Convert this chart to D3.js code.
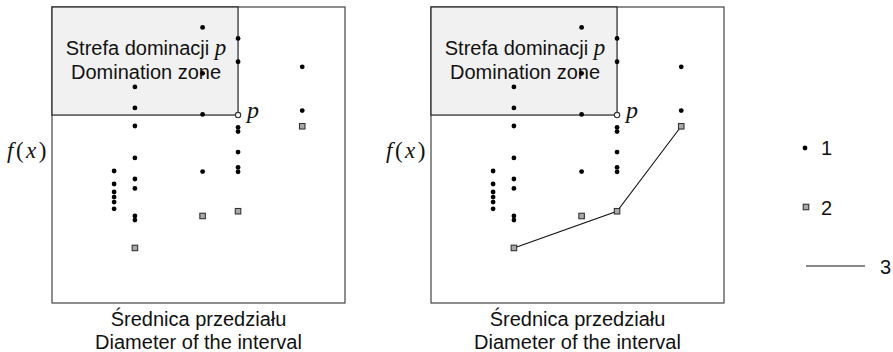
<!DOCTYPE html>
<html>
<head>
<meta charset="utf-8">
<script src="https://cdn.jsdelivr.net/npm/d3@7/dist/d3.min.js"></script>
<style>
  html, body { margin: 0; padding: 0; background: #fff; }
  svg { display: block; }
  .sans { font-family: "Liberation Sans", Arial, Helvetica, sans-serif; }
  .math { font-family: "Liberation Serif", "Times New Roman", serif; font-style: italic; }
</style>
</head>
<body>
<svg id="chart" width="893" height="352"></svg>
<script>
// Candidate solutions: interval diameter (x) vs. objective f(x), both on a 0–100 scale.
const columnX   = [21.2, 28.3, 51.4, 63.5, 85.4];
const colA = [44.6, 40.2, 37.5, 35.8, 34.1, 31.8];
const colB = [73.0, 65.9, 59.8, 49.0, 41.9, 38.7, 29.4, 28.0];
const colC = [93.1, 77.6, 63.7, 44.4];
const colD = [89.4, 81.5, 59.3, 57.9, 51.0, 45.8, 44.3];
const colE = [79.8, 65.0];
const pointCols = [colA, colB, colC, colD, colE];

// Best (minimal f) solution in each diameter column, marked with a square.
const bestX = [28.3, 51.4, 63.5, 85.4];
const bestY = [18.6, 29.4, 31.0, 59.7];

// Lower front connecting the non-dominated best solutions.
const frontX = [28.3, 63.5, 85.4];
const frontY = [18.6, 31.0, 59.7];

// Reference point p and its domination zone.
const pX = 63.5, pY = 63.5;

const labelZone1 = "Strefa dominacji ";
const labelZone2 = "Domination zone";
const xLabel1 = "Średnica przedziału";
const xLabel2 = "Diameter of the interval";
const legendLabels = ["1", "2", "3"];

const svg = d3.select("#chart");
const W = 293, H = 296, TOP = 7;
const panelLefts = [52, 431];

const x = d3.scaleLinear().domain([0, 100]).range([0, W]);
const y = d3.scaleLinear().domain([0, 100]).range([H, 0]);

const points = [];
pointCols.forEach((col, i) => col.forEach(v => points.push({ x: columnX[i], y: v })));
const best = bestX.map((v, i) => ({ x: v, y: bestY[i] }));
const front = frontX.map((v, i) => ({ x: v, y: frontY[i] }));

const DOT_R = 2.4;

function drawPanel(left, withFront) {
  const g = svg.append("g").attr("transform", `translate(${left},${TOP})`);

  // plot frame
  g.append("rect")
    .attr("x", 0).attr("y", 0).attr("width", W).attr("height", H)
    .attr("fill", "none").attr("stroke", "#444").attr("stroke-width", 1.2);

  // domination zone of p
  g.append("rect")
    .attr("x", x(0)).attr("y", y(100))
    .attr("width", x(pX) - x(0)).attr("height", y(pY) - y(100))
    .attr("fill", "#f1f1f1").attr("stroke", "#222").attr("stroke-width", 1.2);

  const cx = (x(0) + x(pX)) / 2 + 1;
  const t1 = g.append("text").attr("class", "sans")
    .attr("x", cx).attr("y", 48).attr("text-anchor", "middle")
    .attr("font-size", 20).attr("fill", "#111");
  t1.append("tspan").text(labelZone1);
  t1.append("tspan").attr("class", "math").attr("font-size", 23).text("p");
  g.append("text").attr("class", "sans")
    .attr("x", cx).attr("y", 72).attr("text-anchor", "middle")
    .attr("font-size", 20).attr("fill", "#111").text(labelZone2);

  if (withFront) {
    g.append("path")
      .datum(front)
      .attr("d", d3.line().x(d => x(d.x)).y(d => y(d.y)))
      .attr("fill", "none").attr("stroke", "#111").attr("stroke-width", 1.1);
  }

  g.selectAll("circle.pt").data(points).join("circle")
    .attr("class", "pt")
    .attr("cx", d => x(d.x)).attr("cy", d => y(d.y)).attr("r", DOT_R)
    .attr("fill", "#000");

  const s = 5.5;
  g.selectAll("rect.best").data(best).join("rect")
    .attr("class", "best")
    .attr("x", d => x(d.x) - s / 2).attr("y", d => y(d.y) - s / 2)
    .attr("width", s).attr("height", s)
    .attr("fill", "#aaa").attr("stroke", "#333").attr("stroke-width", 1.1);

  // point p
  g.append("circle")
    .attr("cx", x(pX)).attr("cy", y(pY)).attr("r", 2.7)
    .attr("fill", "#fff").attr("stroke", "#333").attr("stroke-width", 1.1);
  g.append("text").attr("class", "math")
    .attr("x", x(pX) + 9).attr("y", y(pY) + 3)
    .attr("font-size", 24).attr("fill", "#111").text("p");

  // axis titles
  g.append("text").attr("class", "sans")
    .attr("x", W / 2).attr("y", 318.5).attr("text-anchor", "middle")
    .attr("font-size", 20).attr("fill", "#111").text(xLabel1);
  g.append("text").attr("class", "sans")
    .attr("x", W / 2).attr("y", 341.5).attr("text-anchor", "middle")
    .attr("font-size", 20).attr("fill", "#111").text(xLabel2);

  const fl = g.append("text")
    .attr("x", -45).attr("y", 151)
    .attr("font-family", "'Liberation Serif', 'Times New Roman', serif")
    .attr("font-size", 23).attr("fill", "#111").attr("letter-spacing", 2.5);
  fl.append("tspan").attr("font-style", "italic").text("f");
  fl.append("tspan").text("(");
  fl.append("tspan").attr("font-style", "italic").text("x");
  fl.append("tspan").text(")");
}

drawPanel(panelLefts[0], false);
drawPanel(panelLefts[1], true);

// legend
const lg = svg.append("g");
lg.append("circle").attr("cx", 805).attr("cy", 148).attr("r", DOT_R).attr("fill", "#000");
lg.append("rect").attr("x", 803.25).attr("y", 204.25).attr("width", 5.5).attr("height", 5.5)
  .attr("fill", "#aaa").attr("stroke", "#333").attr("stroke-width", 1.1);
lg.append("line").attr("x1", 806).attr("x2", 865).attr("y1", 266).attr("y2", 266)
  .attr("stroke", "#111").attr("stroke-width", 1.1);
const legendPos = [[821, 155], [821, 215], [880, 274]];
lg.selectAll("text").data(legendLabels).join("text")
  .attr("class", "sans")
  .attr("x", (d, i) => legendPos[i][0]).attr("y", (d, i) => legendPos[i][1])
  .attr("font-size", 20).attr("fill", "#111").text(d => d);
</script>
</body>
</html>
